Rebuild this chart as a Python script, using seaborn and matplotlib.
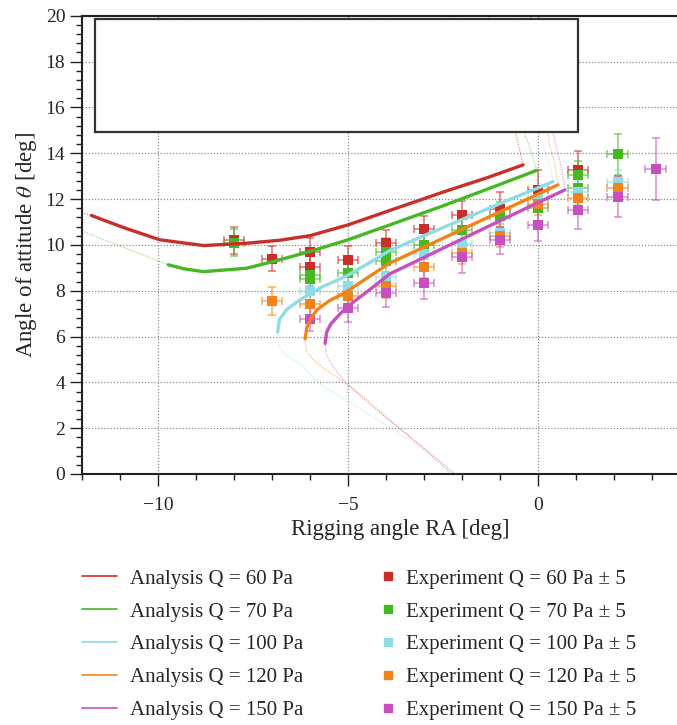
import matplotlib
matplotlib.use("Agg")
import matplotlib.pyplot as plt
import matplotlib.ticker as mtick
from matplotlib.lines import Line2D
from matplotlib.patches import Rectangle
import seaborn as sns
import pandas as pd

# series labels / colours
q_values = [60, 70, 100, 120, 150]
colors = ["#c92f29", "#46b823", "#8edde6", "#f0841a", "#c84fbf"]

# analysis curves, solid part
ana60_x = [-11.75, -10.9, -9.95, -8.8, -7.67, -6.8, -6.0, -5.0, -3.9, -2.5, -1.3, -0.39]
ana60_y = [11.28, 10.75, 10.22, 9.97, 10.07, 10.2, 10.4, 10.87, 11.5, 12.3, 12.95, 13.49]
ana70_x = [-9.73, -9.3, -8.8, -7.67, -6.9, -6.0, -5.0, -3.9, -2.5, -1.3, -0.03]
ana70_y = [9.13, 8.95, 8.83, 8.98, 9.3, 9.71, 10.22, 10.87, 11.7, 12.45, 13.25]
ana100_x = [-6.85, -6.8, -6.6, -6.26, -5.7, -5.03, -4.4, -3.9, -3.0, -2.0, -1.0, 0.4]
ana100_y = [6.2, 6.75, 7.2, 7.6, 8.15, 8.65, 9.25, 9.75, 10.4, 11.1, 11.8, 12.76]
ana120_x = [-6.13, -6.08, -5.95, -5.82, -5.5, -5.03, -4.5, -3.9, -3.0, -2.0, -1.0, 0.53]
ana120_y = [5.9, 6.4, 6.85, 7.16, 7.55, 7.96, 8.55, 9.2, 9.9, 10.67, 11.44, 12.62]
ana150_x = [-5.6, -5.56, -5.45, -5.2, -4.9, -4.5, -3.9, -3.0, -2.0, -1.0, 0.71]
ana150_y = [5.7, 6.2, 6.55, 7.0, 7.45, 7.95, 8.73, 9.45, 10.25, 11.05, 12.4]

# analysis curves, faint continuation (lower / left branch)
low60_x = [-12.0, -11.75]
low60_y = [11.4, 11.28]
low70_x = [-12.0, -11.0, -9.73]
low70_y = [10.6, 9.95, 9.13]
low100_x = [-6.85, -6.82, -6.65, -6.26, -5.8, -5.03, -3.87, -3.0, -2.3]
low100_y = [6.2, 5.6, 5.2, 4.8, 4.0, 3.2, 2.0, 1.05, 0.0]
low120_x = [-6.13, -6.1, -5.9, -5.5, -5.03, -4.4, -3.8, -3.0, -2.25]
low120_y = [5.92, 5.4, 4.95, 4.45, 3.95, 3.1, 2.2, 1.1, 0.0]
low150_x = [-5.6, -5.57, -5.4, -5.07, -4.4, -3.65, -2.9, -2.17]
low150_y = [5.7, 5.2, 4.7, 4.0, 3.0, 2.0, 1.0, 0.0]

# analysis curves, faint continuation (upper branch)
up60_x = [-0.39, -0.5, -0.6, -0.9, -1.4, -2.3]
up60_y = [13.49, 14.3, 14.93, 16.5, 18.3, 20.0]
up70_x = [-0.03, -0.2, -0.37, -0.7, -1.3]
up70_y = [13.25, 14.2, 14.93, 16.8, 20.0]
up100_x = [0.4, 0.3, 0.1, 0.0, -0.3, -0.7, -1.0]
up100_y = [12.76, 13.6, 14.5, 14.93, 16.5, 18.5, 20.0]
up120_x = [0.53, 0.45, 0.3, 0.26, 0.0, -0.4]
up120_y = [12.62, 13.5, 14.4, 14.93, 17.0, 20.0]
up150_x = [0.71, 0.6, 0.45, 0.39, 0.15, -0.2]
up150_y = [12.4, 13.5, 14.5, 14.93, 17.0, 20.0]

# experiments
exp60_x = [-8, -7, -6, -6, -5, -4, -3, -2, -1, 0, 1.05]
exp60_y = [10.2, 9.4, 9.7, 9.05, 9.35, 10.1, 10.7, 11.3, 11.55, 12.4, 13.25]
exp60_err = [0.6, 0.55, 0.6, 0.6, 0.6, 0.55, 0.55, 0.6, 0.75, 0.85, 0.85]
exp70_x = [-8, -6, -6, -5, -4, -4, -3, -2, -1, 0, 1.05, 1.05, 2.1]
exp70_y = [10.1, 8.7, 8.5, 8.75, 9.7, 9.3, 10.0, 10.65, 11.25, 11.6, 13.05, 12.5, 13.95]
exp70_err = [0.6, 0.5, 0.5, 0.6, 0.6, 0.5, 0.6, 0.6, 0.6, 0.6, 0.6, 0.6, 0.88]
exp100_x = [-6, -5, -4, -3, -2, -1, 0, 1.05, 2.1]
exp100_y = [8.0, 8.2, 8.6, 9.6, 10.05, 10.5, 12.0, 12.3, 12.75]
exp100_err = [0.5, 0.5, 0.5, 0.5, 0.5, 0.5, 0.5, 0.5, 0.5]
exp120_x = [-7, -6, -5, -4, -3, -2, -1, 0, 1.05, 2.1]
exp120_y = [7.55, 7.4, 7.75, 8.2, 9.05, 9.65, 10.4, 11.8, 12.05, 12.5]
exp120_err = [0.6, 0.5, 0.5, 0.5, 0.5, 0.5, 0.5, 0.5, 0.5, 0.5]
exp150_x = [-6, -5, -4, -3, -2, -1, 0, 1.05, 2.1, 3.1]
exp150_y = [6.75, 7.25, 7.9, 8.35, 9.45, 10.2, 10.85, 11.5, 12.1, 13.3]
exp150_err = [0.5, 0.6, 0.6, 0.7, 0.7, 0.6, 0.7, 0.8, 0.9, 1.35]
x_err = 0.27

ana = [(ana60_x, ana60_y), (ana70_x, ana70_y), (ana100_x, ana100_y),
       (ana120_x, ana120_y), (ana150_x, ana150_y)]
low = [(low60_x, low60_y), (low70_x, low70_y), (low100_x, low100_y),
       (low120_x, low120_y), (low150_x, low150_y)]
up = [(up60_x, up60_y), (up70_x, up70_y), (up100_x, up100_y),
      (up120_x, up120_y), (up150_x, up150_y)]
exp = [(exp60_x, exp60_y, exp60_err), (exp70_x, exp70_y, exp70_err),
       (exp100_x, exp100_y, exp100_err), (exp120_x, exp120_y, exp120_err),
       (exp150_x, exp150_y, exp150_err)]

sns.set_theme(style="ticks")
plt.rcParams["font.family"] = ["Liberation Serif", "DejaVu Serif"]
plt.rcParams["mathtext.fontset"] = "stix"

fig = plt.figure(figsize=(6.77, 7.25), dpi=100)
ax = fig.add_axes([82 / 677, 1 - 474 / 725, (718 - 82) / 677, (474 - 15.7) / 725])

# faint branches first
for (lx, ly), (ux, uy), c in zip(low, up, colors):
    for xs, ys in [(lx, ly), (ux, uy)]:
        df = pd.DataFrame({"x": xs, "y": ys})
        sns.lineplot(data=df, x="x", y="y", sort=False, estimator=None, ax=ax,
                     color=c, lw=0.9, alpha=0.5, linestyle=(0, (1, 1)), zorder=2)

# experiments
for (ex, ey, ee), c in zip(exp, colors):
    ax.errorbar(ex, ey, yerr=ee, xerr=x_err, fmt="none", ecolor=c, elinewidth=1.1,
                capsize=3, capthick=1.1, alpha=0.65, zorder=3)
    df = pd.DataFrame({"x": ex, "y": ey})
    sns.scatterplot(data=df, x="x", y="y", ax=ax, color=c, marker="s", s=42,
                    linewidth=0, zorder=4)

# analysis solid curves
for (axs, ays), c in zip(ana, colors):
    df = pd.DataFrame({"x": axs, "y": ays})
    sns.lineplot(data=df, x="x", y="y", sort=False, estimator=None, ax=ax,
                 color=c, lw=2.4, zorder=5)

# blank box at top
ax.add_patch(Rectangle((-11.66, 14.93), 12.71, 4.91, facecolor="white",
                       edgecolor="#333333", lw=1.6, zorder=6))

ax.set_xlim(-12, 4.74)
ax.set_ylim(0, 20)
ax.xaxis.set_major_locator(mtick.MultipleLocator(5))
ax.xaxis.set_minor_locator(mtick.MultipleLocator(1))
ax.yaxis.set_major_locator(mtick.MultipleLocator(2))
ax.yaxis.set_minor_locator(mtick.MultipleLocator(0.4))
ax.xaxis.set_major_formatter(mtick.FuncFormatter(lambda v, _: f"{v:.0f}".replace("-", "\u2212")))
ax.grid(True, which="major", linestyle=(0, (1, 1.5)), color="#8a8a8a", lw=0.9, zorder=1)
ax.set_axisbelow(True)
ax.tick_params(which="major", length=8.5, width=1.0, labelsize=14, color="#222222")
ax.tick_params(axis="x", which="major", pad=8)
ax.tick_params(which="minor", length=4.5, width=1.0, color="#222222")
for s in ["left", "bottom", "top"]:
    ax.spines[s].set_linewidth(1.5)
    ax.spines[s].set_color("#222222")
ax.spines["right"].set_visible(False)

ax.set_xlabel("Rigging angle RA [deg]", fontsize=16.5, labelpad=4)
ax.set_ylabel(r"Angle of attitude $\theta$ [deg]", fontsize=16.5, labelpad=5)

# legends
ana_handles = [Line2D([], [], color=c, lw=1.2) for c in colors]
ana_labels = [f"Analysis Q = {q} Pa" for q in q_values]
exp_handles = [Line2D([], [], color=c, marker="s", ms=5.5, ls="none") for c in colors]
exp_labels = [f"Experiment Q = {q} Pa \u00b1 5" for q in q_values]

leg1 = fig.legend(ana_handles, ana_labels, loc="upper left",
                  bbox_to_anchor=(82 / 677, 1 - 569 / 725), frameon=False,
                  fontsize=15, handlelength=1.67, handletextpad=0.62,
                  labelspacing=0.64, borderpad=0, borderaxespad=0)
leg2 = fig.legend(exp_handles, exp_labels, loc="upper left",
                  bbox_to_anchor=(380 / 677, 1 - 569 / 725), frameon=False,
                  fontsize=15, handlelength=0.8, handletextpad=0.43,
                  labelspacing=0.64, borderpad=0, borderaxespad=0)

fig.savefig("out.png", dpi=100)
